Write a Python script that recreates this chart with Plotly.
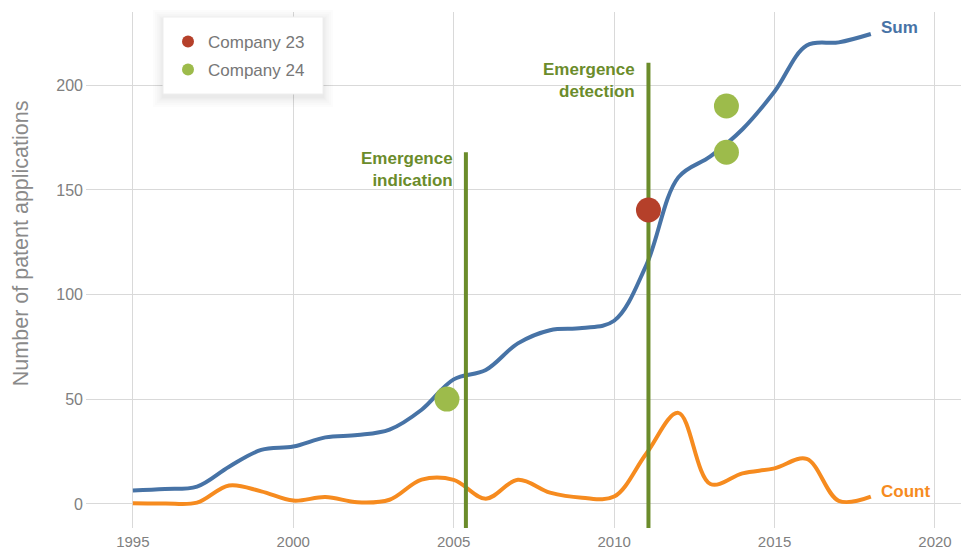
import plotly.graph_objects as go

years = list(range(1995, 2019))
sum_values = [6.4, 7.1, 8.3, 17.8, 25.8, 27.4, 31.8, 32.9, 35.5, 45.0, 59.5, 64.0,
              76.7, 83.0, 84.0, 87.5, 114.0, 156.0, 166.0, 179.0, 197.0, 219.0, 220.5, 224.5]
count_values = [0.3, 0.2, 0.6, 8.8, 6.0, 1.6, 3.3, 0.8, 2.0, 11.6, 11.5, 2.5,
                11.5, 5.4, 3.0, 3.5, 24.0, 43.5, 9.5, 14.6, 17.0, 21.5, 1.5, 3.5]

company23_x = [2011.07]
company23_y = [140.4]
company24_x = [2004.79, 2013.5, 2013.5]
company24_y = [50.1, 168.0, 190.1]

event_x = [2005.38, 2011.07]
event_top = [168.0, 210.8]
event_labels = ["Emergence<br>indication", "Emergence<br>detection"]

x_range = [1993.54, 2021.06]
y_range = [-11.5, 235.0]
x_ticks = [1995, 2000, 2005, 2010, 2015, 2020]
y_ticks = [0, 50, 100, 150, 200]

FONT = "Helvetica Neue, Liberation Sans, Arial, sans-serif"
BLUE = "#4773a6"
ORANGE = "#f68b1f"
DGREEN = "#6b8c2b"
RED = "#b5402a"
LGREEN = "#9dbb4b"

fig = go.Figure()
fig.add_trace(go.Scatter(x=years, y=sum_values, mode="lines", line=dict(color=BLUE, width=4, shape="spline", smoothing=1.0),
                         showlegend=False, hoverinfo="skip"))
fig.add_trace(go.Scatter(x=years, y=count_values, mode="lines", line=dict(color=ORANGE, width=4, shape="spline", smoothing=1.0),
                         showlegend=False, hoverinfo="skip"))
for ex, et in zip(event_x, event_top):
    fig.add_trace(go.Scatter(x=[ex, ex], y=[y_range[0], et], mode="lines", line=dict(color=DGREEN, width=4),
                             showlegend=False, hoverinfo="skip"))
fig.add_trace(go.Scatter(x=company23_x, y=company23_y, mode="markers", name="Company 23",
                         marker=dict(color=RED, size=25), legend="legend"))
fig.add_trace(go.Scatter(x=company24_x, y=company24_y, mode="markers", name="Company 24",
                         marker=dict(color=LGREEN, size=25), legend="legend2"))

annotations = []
for ex, et, lab in zip(event_x, event_top, event_labels):
    annotations.append(dict(x=ex, y=et, xref="x", yref="y", text="<b>" + lab + "</b>", showarrow=False,
                            xanchor="right", yanchor="top", xshift=-11, yshift=5, align="right",
                            font=dict(family=FONT, size=17, color=DGREEN)))
annotations.append(dict(x=years[-1], y=sum_values[-1], xref="x", yref="y", text="<b>Sum</b>", showarrow=False,
                        xanchor="left", yanchor="middle", xshift=8, yshift=6, font=dict(family=FONT, size=17, color=BLUE)))
annotations.append(dict(x=years[-1], y=count_values[-1], xref="x", yref="y", text="<b>Count</b>", showarrow=False,
                        xanchor="left", yanchor="middle", xshift=8, yshift=5, font=dict(family=FONT, size=17, color=ORANGE)))
annotations.append(dict(x=0, y=0.552, xref="paper", yref="paper", text="Number of patent applications", showarrow=False,
                        textangle=-90, xanchor="center", yanchor="middle", xshift=-65,
                        font=dict(family=FONT, size=21.5, color="#8a8a8a")))

# page body has an 8px margin; figure coordinates below are relative to the figure
W, H, L, T = 883.0, 516.0, 78.0, 4.0
def px2paper(px, py):
    return (px - L) / W, (T + H - py) / H

# legend box with a soft shadow
shapes = []
for g in [10, 8, 6, 4.5, 3, 2, 1]:
    x0, y0 = px2paper(155 - g, 86 + g + 3)
    x1, y1 = px2paper(315 + g, 9 - g + 3)
    shapes.append(dict(type="rect", xref="paper", yref="paper", x0=x0, y0=y0, x1=x1, y1=y1,
                       fillcolor="black", opacity=0.012, line=dict(width=0), layer="above"))
bx0, by0 = px2paper(155, 86)
bx1, by1 = px2paper(315, 9)
shapes.append(dict(type="rect", xref="paper", yref="paper", x0=bx0, y0=by0, x1=bx1, y1=by1,
                   fillcolor="white", line=dict(color="#eeeeee", width=1), layer="above"))

l1x, l1y = px2paper(160, 16)
l2x, l2y = px2paper(160, 44)
legend_style = dict(xanchor="left", yanchor="top", bgcolor="rgba(0,0,0,0)", borderwidth=0,
                    font=dict(family=FONT, size=17, color="#777777"), itemsizing="constant")
fig.update_layout(
    width=961, height=542,
    margin=dict(l=78, r=0, t=4, b=22),
    paper_bgcolor="white", plot_bgcolor="white",
    font=dict(family=FONT, size=16, color="#808080"),
    xaxis=dict(range=x_range, tickvals=x_ticks, showgrid=True, gridcolor="#d9d9d9", gridwidth=1,
               zeroline=False, showline=False, ticks="", ticklabelstandoff=3, automargin=False,
               tickfont=dict(size=15, color="#808080")),
    yaxis=dict(range=y_range, tickvals=y_ticks, showgrid=True, gridcolor="#d9d9d9", gridwidth=1,
               zeroline=False, showline=False, ticks="", ticklabelstandoff=2, automargin=False,
               tickfont=dict(size=16, color="#808080")),
    legend=dict(x=l1x, y=l1y, **legend_style),
    legend2=dict(x=l2x, y=l2y, **legend_style),
    annotations=annotations,
    shapes=shapes,
)

fig.write_html("out.html")
